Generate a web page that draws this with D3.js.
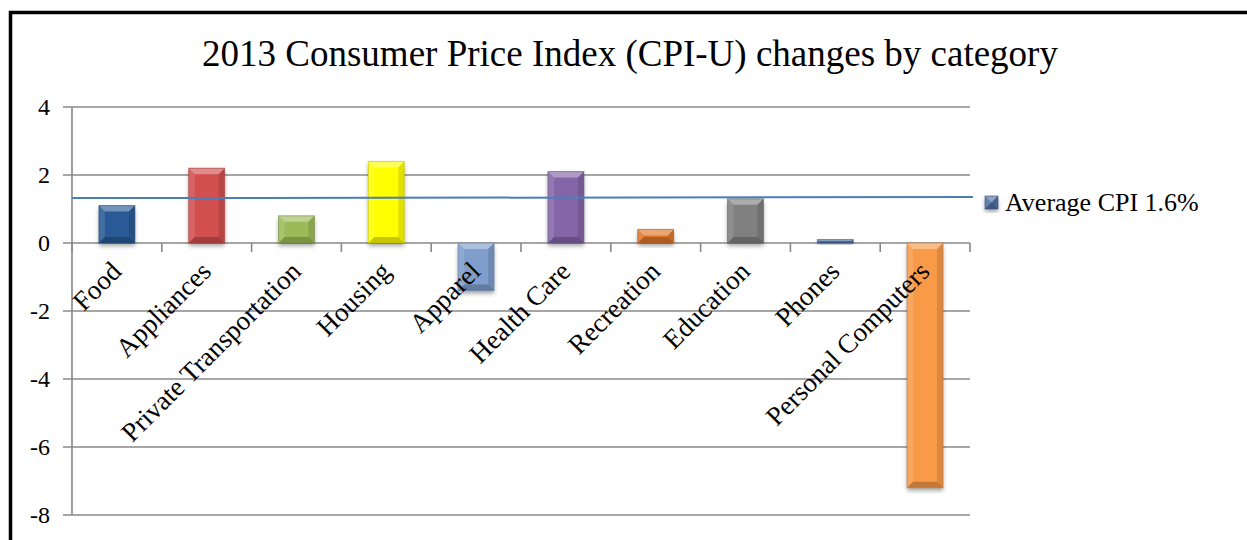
<!DOCTYPE html>
<html>
<head>
<meta charset="utf-8">
<script src="https://cdn.jsdelivr.net/npm/d3@7"></script>
<style>
  body { margin: 0; background: #fff; }
  svg text { font-family: "Liberation Serif", "Times New Roman", serif; fill: #000; }
</style>
</head>
<body>
<script>
// chart data
const categories = ["Food", "Appliances", "Private Transportation", "Housing", "Apparel",
  "Health Care", "Recreation", "Education", "Phones", "Personal Computers"];
const values = [1.1, 2.2, 0.8, 2.4, -1.4, 2.1, 0.4, 1.3, 0.1, -7.2];
const barColors = ["#2b5a95", "#d24f4f", "#9bbb59", "#ffff00", "#7f9ecb",
  "#8466a8", "#e0772c", "#808080", "#4f6fa3", "#f99a48"];
const yTicks = [4, 2, 0, -2, -4, -6, -8];
// the average line, left end and right end
const avgLine = [1.32, 1.35];
const legendLabel = "Average CPI 1.6%";
const title = "2013 Consumer Price Index (CPI-U) changes by category";

const width = 1247;
const height = 540;
const plotLeft = 72;
const plotRight = 970;
const plotTop = 107;
const plotBottom = 515;

const svg = d3.select("body").append("svg")
  .attr("width", width)
  .attr("height", height)
  .style("display", "block");

const defs = svg.append("defs");
const shadow = defs.append("filter").attr("id", "shadow")
  .attr("x", "-30%").attr("y", "-30%").attr("width", "160%").attr("height", "160%");
shadow.append("feDropShadow")
  .attr("dx", 0).attr("dy", 3).attr("stdDeviation", 2)
  .attr("flood-color", "#000").attr("flood-opacity", 0.35);

// outer frame
svg.append("rect")
  .attr("x", 10.5).attr("y", 12.5)
  .attr("width", width + 20).attr("height", height + 20)
  .attr("fill", "none").attr("stroke", "#000").attr("stroke-width", 3.5);

svg.append("text")
  .attr("x", 630).attr("y", 66)
  .attr("text-anchor", "middle")
  .attr("font-size", 37)
  .text(title);

const x = d3.scaleBand()
  .domain(categories)
  .range([plotLeft, plotRight])
  .paddingInner(0.6)
  .paddingOuter(0.3);

const y = d3.scaleLinear()
  .domain([-8, 4])
  .range([plotBottom, plotTop]);

// gridlines + y ticks
svg.append("g").selectAll("line")
  .data(yTicks)
  .enter().append("line")
  .attr("x1", plotLeft - 9).attr("x2", plotRight)
  .attr("y1", d => y(d)).attr("y2", d => y(d))
  .attr("stroke", "#888").attr("stroke-width", 1.6);

svg.append("line")
  .attr("x1", plotLeft).attr("x2", plotLeft)
  .attr("y1", plotTop).attr("y2", plotBottom)
  .attr("stroke", "#888").attr("stroke-width", 1.6);

svg.append("g").selectAll("text")
  .data(yTicks)
  .enter().append("text")
  .attr("x", 50)
  .attr("y", d => y(d) + 8)
  .attr("text-anchor", "end")
  .attr("font-size", 24)
  .text(d => d);

// category tick marks along zero line
const step = x.step();
svg.append("g").selectAll("line")
  .data(d3.range(categories.length + 1))
  .enter().append("line")
  .attr("x1", i => plotLeft + i * step).attr("x2", i => plotLeft + i * step)
  .attr("y1", y(0)).attr("y2", y(0) + 9)
  .attr("stroke", "#888").attr("stroke-width", 1.6);

// bars with a bevel look
function drawBar(g, bx, by, bw, bh, color) {
  g.append("rect")
    .attr("x", bx).attr("y", by).attr("width", bw).attr("height", bh)
    .attr("fill", color)
    .attr("filter", "url(#shadow)");
  var b = Math.min(6, bh / 2, bw / 2);
  var x0 = bx, x1 = bx + bw, y0 = by, y1 = by + bh;
  var faces = [
    { pts: [[x0, y0], [x1, y0], [x1 - b, y0 + b], [x0 + b, y0 + b]], fill: "#fff", op: 0.35 },
    { pts: [[x0, y0], [x0 + b, y0 + b], [x0 + b, y1 - b], [x0, y1]], fill: "#fff", op: 0.12 },
    { pts: [[x1, y0], [x1, y1], [x1 - b, y1 - b], [x1 - b, y0 + b]], fill: "#000", op: 0.12 },
    { pts: [[x0, y1], [x0 + b, y1 - b], [x1 - b, y1 - b], [x1, y1]], fill: "#000", op: 0.22 }
  ];
  faces.forEach(f => {
    g.append("polygon")
      .attr("points", f.pts.map(p => p.join(",")).join(" "))
      .attr("fill", f.fill).attr("fill-opacity", f.op);
  });
  g.append("rect")
    .attr("x", bx).attr("y", by).attr("width", bw).attr("height", bh)
    .attr("fill", "none")
    .attr("stroke", d3.color(color).darker(0.8))
    .attr("stroke-opacity", 0.6)
    .attr("stroke-width", 1);
}

const bars = svg.append("g");
categories.forEach((c, i) => {
  var v = values[i];
  var top = y(Math.max(0, v));
  var h = Math.abs(y(v) - y(0));
  drawBar(bars.append("g"), x(c), top, x.bandwidth(), h, barColors[i]);
});

// rotated category labels
svg.append("g").selectAll("text")
  .data(categories)
  .enter().append("text")
  .attr("transform", d => {
    var cx = x(d) + x.bandwidth() / 2 + 6;
    return "translate(" + cx + "," + (y(0) + 30) + ") rotate(-45)";
  })
  .attr("text-anchor", "end")
  .attr("font-size", 27)
  .text(d => d);

// average line
svg.append("line")
  .attr("x1", plotLeft).attr("x2", plotRight + 3)
  .attr("y1", y(avgLine[0])).attr("y2", y(avgLine[1]))
  .attr("stroke", "#4a7ebb").attr("stroke-width", 2);

// legend
const legend = svg.append("g");
drawBar(legend, 985, 196, 13, 13, "#4f6fa3");
legend.append("text")
  .attr("x", 1005).attr("y", 211)
  .attr("font-size", 26)
  .text(legendLabel);
</script>
</body>
</html>
